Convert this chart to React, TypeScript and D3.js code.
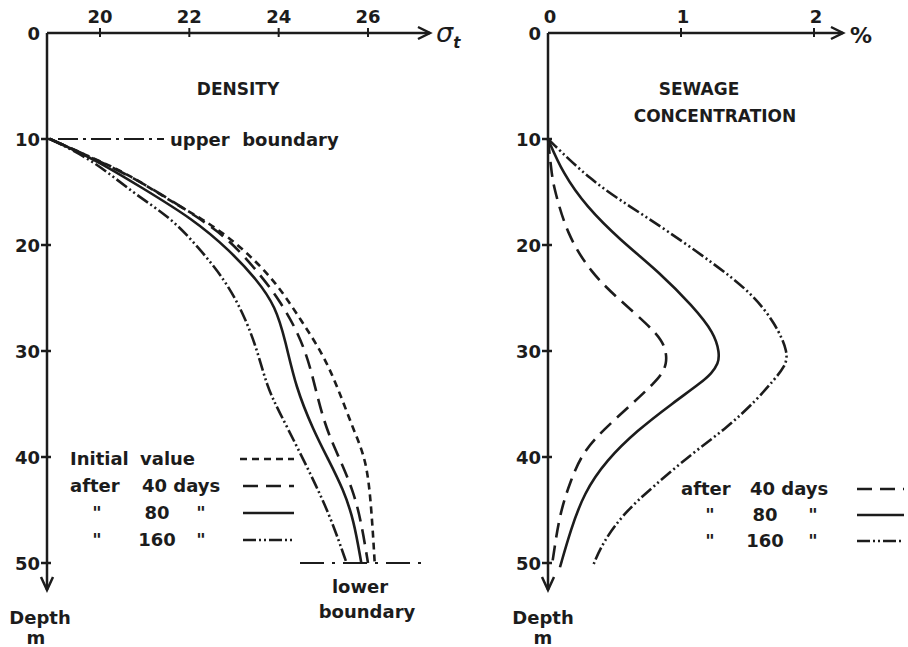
import React, { useEffect, useRef } from 'react';
import * as d3 from 'd3';

// density profiles (sigma-t) against depth in m
const initialDepth = [10, 12, 13.4, 16.0, 17.9, 20.5, 23.6, 27.1, 30.2, 33.4, 37.5, 40.3, 45.0, 50];
const initialSigma = [18.88, 19.95, 20.67, 21.63, 22.45, 23.25, 23.96, 24.5, 24.98, 25.32, 25.68, 25.97, 26.08, 26.15];

const days40Depth = [10, 12, 14.2, 17.4, 19.5, 22.6, 25.2, 28.3, 31.5, 36.8, 40.3, 43.1, 45.9, 50];
const days40Sigma = [18.88, 19.95, 21.0, 22.2, 22.9, 23.55, 24.02, 24.44, 24.72, 25.0, 25.38, 25.66, 25.84, 26.0];

const days80Depth = [10, 12, 14.5, 17.6, 20.5, 23.3, 25.8, 29.0, 33.4, 37.5, 40.3, 43.1, 45.9, 50];
const days80Sigma = [18.88, 19.92, 20.9, 22.1, 22.9, 23.52, 23.93, 24.15, 24.38, 24.78, 25.12, 25.45, 25.68, 25.85];

const days160Depth = [10, 12, 15.1, 17.4, 20.2, 23.3, 26.4, 29.6, 33.4, 35.8, 39.1, 42.8, 45.9, 50];
const days160Sigma = [18.88, 19.85, 20.74, 21.58, 22.2, 22.8, 23.2, 23.5, 23.74, 24.02, 24.42, 24.85, 25.18, 25.52];

// sewage concentration (%) against depth in m
const sew40Depth = [10, 13.6, 14.8, 18.9, 22.6, 25.2, 27.4, 29.0, 30.2, 31.2, 32.1, 33.0, 34.9, 37.5, 39.6, 42.2, 45.3, 48.5, 50.2];
const sew40Pct = [0, 0.03, 0.05, 0.14, 0.32, 0.54, 0.74, 0.86, 0.89, 0.89, 0.86, 0.8, 0.64, 0.41, 0.26, 0.17, 0.09, 0.05, 0.03];

const sew80Depth = [10, 13.2, 16.4, 19.5, 22.6, 25.8, 28.3, 30.2, 31.2, 32.1, 33.0, 34.9, 37.5, 40.3, 43.4, 46.9, 50.4];
const sew80Pct = [0, 0.11, 0.29, 0.54, 0.84, 1.09, 1.25, 1.29, 1.28, 1.23, 1.15, 0.94, 0.67, 0.44, 0.27, 0.17, 0.09];

const sew160Depth = [10, 13.9, 16.4, 18.6, 21.7, 24.5, 27.4, 30.2, 31.5, 32.7, 34.6, 37.2, 39.6, 42.8, 45.3, 48.1, 50.2];
const sew160Pct = [0, 0.32, 0.62, 0.89, 1.24, 1.53, 1.71, 1.81, 1.78, 1.7, 1.57, 1.35, 1.09, 0.79, 0.57, 0.41, 0.34];

const sigmaTicks = [20, 22, 24, 26];
const pctTicks = [0, 1, 2];
const depthTicks = [0, 10, 20, 30, 40, 50];

const DASH_INIT = '7,5';
const DASH_40 = '15,8';
const DASH_160 = '13,3,2,3,2,3';

const densityLegend = [
  { a: 'Initial', b: 'value', c: '', dash: DASH_INIT },
  { a: 'after', b: '40 days', c: '', dash: DASH_40 },
  { a: '"', b: '80', c: '"', dash: null },
  { a: '"', b: '160', c: '"', dash: DASH_160 },
];
const sewageLegend = [
  { a: 'after', b: '40 days', c: '', dash: DASH_40 },
  { a: '"', b: '80', c: '"', dash: null },
  { a: '"', b: '160', c: '"', dash: DASH_160 },
];

const INK = '#1c1c1c';
const FONT = '"DejaVu Sans", Verdana, sans-serif';

export default function App() {
  const svgRef = useRef<SVGSVGElement>(null);

  useEffect(() => {
    if (!svgRef.current) return;
    const svg = d3.select(svgRef.current);
    svg.selectAll('*').remove();

    const y = d3.scaleLinear().domain([0, 50]).range([33, 563]);
    const xL = d3.scaleLinear().domain([20, 26]).range([100, 368]);
    const xR = d3.scaleLinear().domain([0, 2]).range([548, 814]);

    const label = (g: any, x: number, yy: number, t: string, size = 18, anchor = 'middle') =>
      g.append('text')
        .attr('x', x).attr('y', yy)
        .attr('text-anchor', anchor)
        .attr('font-family', FONT)
        .attr('font-weight', 'bold')
        .attr('font-size', size)
        .attr('fill', INK)
        .text(t);

    const arrowHead = (g: any, pts: [number, number][]) =>
      g.append('path')
        .attr('d', d3.line()(pts))
        .attr('fill', 'none')
        .attr('stroke', INK)
        .attr('stroke-width', 2.5);

    // ---------- axes for one panel ----------
    const drawAxes = (x0: number, xEnd: number, depthX: number, mX: number) => {
      const g = svg.append('g');
      g.append('line')
        .attr('x1', x0).attr('x2', xEnd)
        .attr('y1', y(0)).attr('y2', y(0))
        .attr('stroke', INK).attr('stroke-width', 2.5);
      arrowHead(g, [[xEnd - 12, y(0) - 6], [xEnd, y(0)], [xEnd - 12, y(0) + 6]]);

      g.append('line')
        .attr('x1', x0).attr('x2', x0)
        .attr('y1', y(0)).attr('y2', 590)
        .attr('stroke', INK).attr('stroke-width', 2.5);
      arrowHead(g, [[x0 - 6, 577], [x0, 590], [x0 + 6, 577]]);

      depthTicks.forEach(d => {
        if (d > 0) {
          g.append('line')
            .attr('x1', x0 - 6).attr('x2', x0 + 4)
            .attr('y1', y(d)).attr('y2', y(d))
            .attr('stroke', INK).attr('stroke-width', 2.5);
        }
        label(g, x0 - 7, y(d) + 7, String(d), 18, 'end');
      });

      label(g, depthX, 624, 'Depth', 18);
      label(g, mX, 644, 'm', 18);
      return g;
    };

    // ---------- left panel: density ----------
    const gL = drawAxes(47, 430, 40, 36);
    sigmaTicks.forEach(v => {
      gL.append('line')
        .attr('x1', xL(v)).attr('x2', xL(v))
        .attr('y1', y(0) - 5).attr('y2', y(0) + 4)
        .attr('stroke', INK).attr('stroke-width', 2);
      label(gL, xL(v), 23, String(v), 18);
    });
    gL.append('text')
      .attr('x', 436).attr('y', 42)
      .attr('font-family', '"DejaVu Sans", sans-serif')
      .attr('font-size', 27)
      .attr('font-style', 'italic')
      .attr('fill', INK)
      .text('σ')
      .append('tspan')
      .attr('font-size', 15).attr('font-weight', 'bold').attr('dy', 6)
      .text('t');

    label(gL, 238, 95, 'DENSITY', 17);

    // upper boundary
    gL.append('line')
      .attr('x1', 58).attr('x2', 164)
      .attr('y1', y(10)).attr('y2', y(10))
      .attr('stroke', INK).attr('stroke-width', 1.8)
      .attr('stroke-dasharray', '20,5,3,5');
    label(gL, 170, y(10) + 7, 'upper  boundary', 18, 'start').attr('xml:space', 'preserve');

    // lower boundary
    gL.append('line')
      .attr('x1', 300).attr('x2', 428)
      .attr('y1', y(50)).attr('y2', y(50))
      .attr('stroke', INK).attr('stroke-width', 1.8)
      .attr('stroke-dasharray', '24,8,3,8');
    label(gL, 360, 593, 'lower', 18);
    label(gL, 367, 618, 'boundary', 18);

    const lineL = d3.line<[number, number]>()
      .x(d => xL(d[1]))
      .y(d => y(d[0]))
      .curve(d3.curveBasis);

    const densSeries = [
      { depth: initialDepth, v: initialSigma, dash: DASH_INIT },
      { depth: days40Depth, v: days40Sigma, dash: DASH_40 },
      { depth: days80Depth, v: days80Sigma, dash: null },
      { depth: days160Depth, v: days160Sigma, dash: DASH_160 },
    ];
    densSeries.forEach(s => {
      gL.append('path')
        .datum(s.depth.map((d, i) => [d, s.v[i]] as [number, number]))
        .attr('d', lineL)
        .attr('fill', 'none')
        .attr('stroke', INK)
        .attr('stroke-width', 2.6)
        .attr('stroke-dasharray', s.dash);
    });

    densityLegend.forEach((row, i) => {
      const yy = 458 + i * 27;
      if (i < 2) {
        label(gL, 70, yy + 7, row.a, 18, 'start');
        label(gL, i === 0 ? 140 : 142, yy + 7, row.b, 18, 'start');
      } else {
        label(gL, 97, yy + 7, row.a, 18);
        label(gL, 157, yy + 7, row.b, 18);
        label(gL, 201, yy + 7, row.c, 18);
      }
      gL.append('line')
        .attr('x1', i === 0 ? 240 : 243).attr('x2', 294)
        .attr('y1', yy + 1).attr('y2', yy + 1)
        .attr('stroke', INK).attr('stroke-width', 2.6)
        .attr('stroke-dasharray', row.dash);
    });

    // ---------- right panel: sewage ----------
    const gR = drawAxes(548, 843, 543, 543);
    pctTicks.forEach(v => {
      if (v > 0) {
        gR.append('line')
          .attr('x1', xR(v)).attr('x2', xR(v))
          .attr('y1', y(0) - 5).attr('y2', y(0) + 4)
          .attr('stroke', INK).attr('stroke-width', 2);
      }
      label(gR, xR(v) + 2, 23, String(v), 18);
    });
    label(gR, 850, 43, '%', 22, 'start');
    label(gR, 699, 95, 'SEWAGE', 17);
    label(gR, 715, 122, 'CONCENTRATION', 17);

    const lineR = d3.line<[number, number]>()
      .x(d => xR(d[1]))
      .y(d => y(d[0]))
      .curve(d3.curveBasis);

    const sewSeries = [
      { depth: sew40Depth, v: sew40Pct, dash: DASH_40 },
      { depth: sew80Depth, v: sew80Pct, dash: null },
      { depth: sew160Depth, v: sew160Pct, dash: DASH_160 },
    ];
    sewSeries.forEach(s => {
      gR.append('path')
        .datum(s.depth.map((d, i) => [d, s.v[i]] as [number, number]))
        .attr('d', lineR)
        .attr('fill', 'none')
        .attr('stroke', INK)
        .attr('stroke-width', 2.6)
        .attr('stroke-dasharray', s.dash);
    });

    sewageLegend.forEach((row, i) => {
      const yy = 488 + i * 26;
      if (i === 0) {
        label(gR, 681, yy + 7, row.a, 18, 'start');
        label(gR, 750, yy + 7, row.b, 18, 'start');
      } else {
        label(gR, 710, yy + 7, row.a, 18);
        label(gR, 765, yy + 7, row.b, 18);
        label(gR, 813, yy + 7, row.c, 18);
      }
      gR.append('line')
        .attr('x1', 857).attr('x2', 904)
        .attr('y1', yy + 1).attr('y2', yy + 1)
        .attr('stroke', INK).attr('stroke-width', 2.6)
        .attr('stroke-dasharray', row.dash);
    });
  }, []);

  return (
    <svg
      ref={svgRef}
      width={908}
      height={647}
      style={{ position: 'absolute', left: 0, top: 0, background: '#fff' }}
    />
  );
}
